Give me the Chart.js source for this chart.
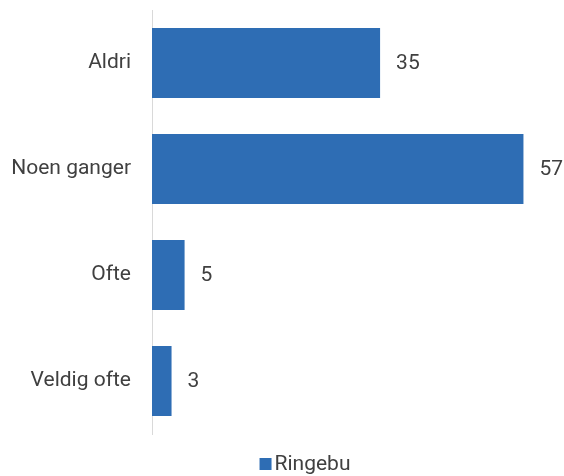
<!DOCTYPE html>
<html>
<head>
<meta charset="utf-8">
<script src="https://cdn.jsdelivr.net/npm/chart.js@4"></script>
<style>
  html, body { margin: 0; padding: 0; background: #fff; }
</style>
</head>
<body>
<canvas id="chart" width="564" height="476"></canvas>
<script>
// data
var categories = ['Aldri', 'Noen ganger', 'Ofte', 'Veldig ofte'];
var seriesName = 'Ringebu';
var values = [35, 57, 5, 3];

var fontFamily = '"Roboto", "Noto Sans", sans-serif';
var textColor = '#404040';
var barColor = '#2E6DB4';

// values next to each bar + legend below the plot
var valueLabels = {
  id: 'valueLabels',
  afterDatasetsDraw: function (chart) {
    var ctx = chart.ctx;
    var meta = chart.getDatasetMeta(0);
    ctx.save();
    ctx.font = '21px ' + fontFamily;
    ctx.fillStyle = textColor;
    ctx.textAlign = 'left';
    ctx.textBaseline = 'middle';
    meta.data.forEach(function (bar, i) {
      ctx.fillText(values[i], bar.x + 16, bar.y + 1);
    });

    // legend
    var tw = ctx.measureText(seriesName).width;
    var total = 12 + 3 + tw;
    var lx = 305 - total / 2;
    var ly = 464;
    ctx.fillStyle = barColor;
    ctx.fillRect(lx, ly - 6, 12, 12);
    ctx.fillStyle = textColor;
    ctx.fillText(seriesName, lx + 15, ly + 1);
    ctx.restore();
  }
};

var chart = new Chart(document.getElementById('chart'), {
  type: 'bar',
  data: {
    labels: categories,
    datasets: [{
      label: seriesName,
      data: values,
      backgroundColor: barColor,
      categoryPercentage: 0.66,
      barPercentage: 1
    }]
  },
  options: {
    indexAxis: 'y',
    responsive: false,
    animation: false,
    layout: { padding: { top: 10, right: 21, left: 0, bottom: 42 } },
    scales: {
      x: {
        display: false,
        min: 0,
        max: 60
      },
      y: {
        grid: { display: false, drawTicks: false },
        border: { display: true, color: '#d9d9d9', width: 1 },
        ticks: {
          color: textColor,
          font: { family: fontFamily, size: 21 },
          padding: 21
        },
        afterFit: function (scale) {
          scale.width = 152;
          scale.paddingTop = 0;
          scale.paddingBottom = 0;
        }
      }
    },
    plugins: {
      legend: { display: false },
      tooltip: { enabled: false }
    }
  },
  plugins: [valueLabels]
});
</script>
</body>
</html>
